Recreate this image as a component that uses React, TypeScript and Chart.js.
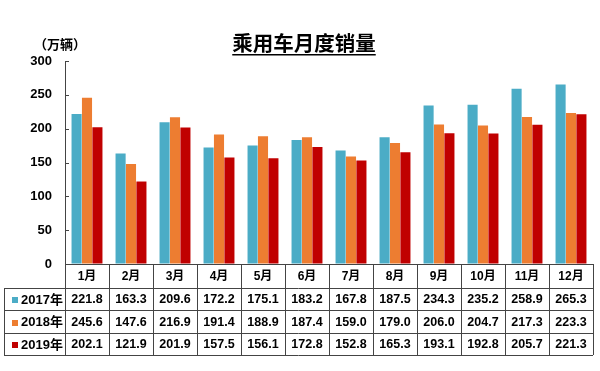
import React, { useEffect, useRef } from "react";
import { Chart, registerables } from "chart.js";

Chart.register(...registerables);

const months = ["1月", "2月", "3月", "4月", "5月", "6月", "7月", "8月", "9月", "10月", "11月", "12月"];
const seriesNames = ["2017年", "2018年", "2019年"];
const s2017 = [221.8, 163.3, 209.6, 172.2, 175.1, 183.2, 167.8, 187.5, 234.3, 235.2, 258.9, 265.3];
const s2018 = [245.6, 147.6, 216.9, 191.4, 188.9, 187.4, 159.0, 179.0, 206.0, 204.7, 217.3, 223.3];
const s2019 = [202.1, 121.9, 201.9, 157.5, 156.1, 172.8, 152.8, 165.3, 193.1, 192.8, 205.7, 221.3];
const colors = ["#4BACC6", "#ED7D31", "#C00000"];
const title = "乘用车月度销量";
const unitLabel = "（万辆）";
const yTicks = [0, 50, 100, 150, 200, 250, 300];

const FONT = "Arial, 'Liberation Sans', 'Noto Sans CJK SC', sans-serif";

const tablePlugin = {
  id: "tablePlugin",
  afterDraw(chart: any) {
    const ctx = chart.ctx as CanvasRenderingContext2D;
    const area = chart.chartArea;
    const xs = chart.scales.x;
    const ys = chart.scales.y;
    const colW = (area.right - area.left) / months.length;
    ctx.save();

    // inward y ticks
    ctx.strokeStyle = "#444";
    ctx.lineWidth = 1;
    for (const v of yTicks) {
      const y = Math.round(ys.getPixelForValue(v)) + 0.5;
      ctx.beginPath();
      ctx.moveTo(area.left, y);
      ctx.lineTo(area.left + 4, y);
      ctx.stroke();
    }

    // title
    ctx.fillStyle = "#000";
    ctx.font = `bold 20.5px 'Noto Sans CJK SC', sans-serif`;
    ctx.textAlign = "center";
    ctx.textBaseline = "alphabetic";
    const tx = 304;
    const tw = ctx.measureText(title).width;
    ctx.fillText(title, tx, 51);
    ctx.fillRect(tx - tw / 2, 54, tw, 1.5);

    // unit label
    ctx.font = `bold 13px 'Noto Sans CJK SC', sans-serif`;
    ctx.fillText(unitLabel, 60, 49);

    // table
    const top = area.bottom;
    const rowEdges = [top, 288, 310, 333, 355];
    const tableLeft = 4;
    const right = area.right;
    ctx.strokeStyle = "#444";
    ctx.lineWidth = 1;
    for (let r = 0; r < rowEdges.length; r++) {
      const y = Math.round(rowEdges[r]) + 0.5;
      ctx.beginPath();
      ctx.moveTo(r === 0 ? area.left : tableLeft, y);
      ctx.lineTo(right, y);
      ctx.stroke();
    }
    const vx = (x: number) => Math.round(x) + 0.5;
    ctx.beginPath();
    ctx.moveTo(vx(tableLeft), rowEdges[1]);
    ctx.lineTo(vx(tableLeft), rowEdges[4]);
    ctx.stroke();
    for (let i = 0; i <= months.length; i++) {
      const x = vx(area.left + i * colW);
      ctx.beginPath();
      ctx.moveTo(x, rowEdges[0]);
      ctx.lineTo(x, rowEdges[4]);
      ctx.stroke();
    }

    ctx.textAlign = "center";
    ctx.textBaseline = "middle";
    ctx.fillStyle = "#000";
    ctx.font = `bold 12px ${FONT}`;
    months.forEach((m, i) => {
      const cx = xs.getPixelForValue(i);
      ctx.fillText(m, cx, (rowEdges[0] + rowEdges[1]) / 2 + 1);
    });
    const data = [s2017, s2018, s2019];
    data.forEach((arr, r) => {
      const cy = (rowEdges[r + 1] + rowEdges[r + 2]) / 2 + 1;
      ctx.textAlign = "center";
      ctx.font = `bold 12.5px ${FONT}`;
      arr.forEach((v, i) => {
        ctx.fillText(v.toFixed(1), xs.getPixelForValue(i), cy);
      });
      ctx.fillStyle = colors[r];
      ctx.fillRect(12, Math.round(cy - 3), 6, 6);
      ctx.fillStyle = "#000";
      ctx.textAlign = "left";
      ctx.font = `bold 13px ${FONT}`;
      ctx.fillText(seriesNames[r], 21, cy);
    });

    ctx.restore();
  },
};

export default function App() {
  const ref = useRef<HTMLCanvasElement | null>(null);
  useEffect(() => {
    document.body.style.margin = "0";
    if (!ref.current) return;
    const chart = new Chart(ref.current, {
      type: "bar",
      data: {
        labels: months,
        datasets: [s2017, s2018, s2019].map((d, i) => ({
          label: seriesNames[i],
          data: d,
          backgroundColor: colors[i],
          categoryPercentage: 0.71,
          barPercentage: 0.97,
        })),
      },
      options: {
        responsive: false,
        animation: false,
        layout: { padding: { left: 0, right: 7, top: 61, bottom: 107 } },
        plugins: {
          legend: { display: false },
          title: { display: false },
          tooltip: { enabled: false },
        },
        scales: {
          x: { display: false, offset: true },
          y: {
            min: 0,
            max: 300,
            ticks: {
              stepSize: 50,
              padding: 13,
              color: "#000",
              font: { family: FONT, size: 13, weight: "bold" },
            },
            grid: { display: true, drawOnChartArea: false, drawTicks: false, tickLength: 0 },
            border: { display: true, color: "#444", width: 1 },
            afterFit: (scale: any) => {
              scale.width = 65;
            },
          },
        },
      },
      plugins: [tablePlugin],
    });
    return () => chart.destroy();
  }, []);
  return (
    <div style={{ position: "absolute", left: 0, top: 0, width: 600, height: 371, background: "#fff" }}>
      <canvas ref={ref} width={600} height={371} style={{ width: 600, height: 371 }} />
    </div>
  );
}
